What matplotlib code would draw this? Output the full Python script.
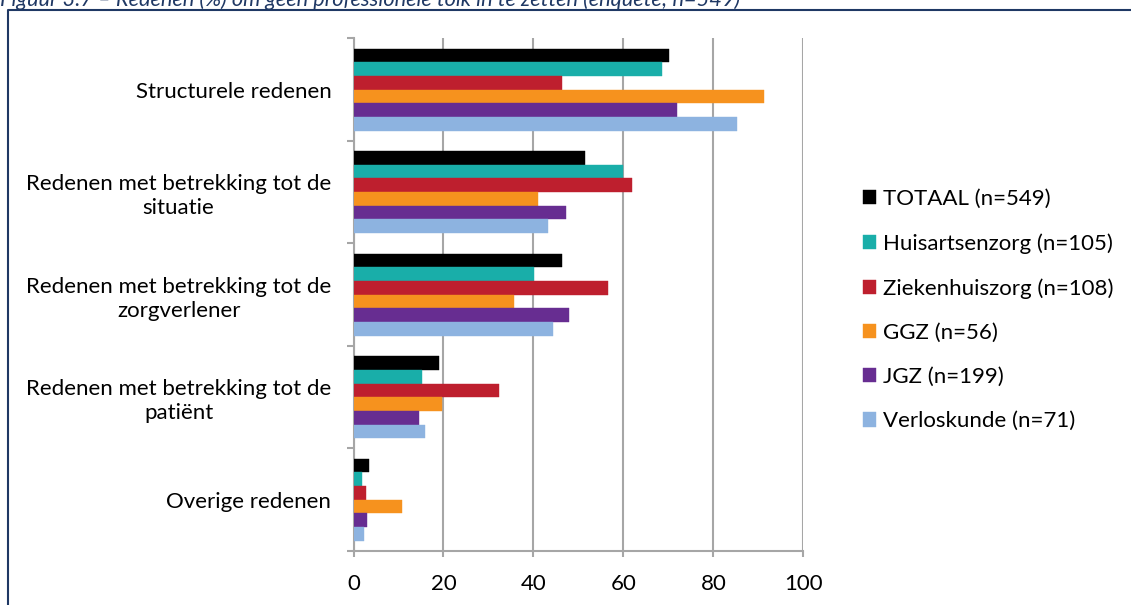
import matplotlib
matplotlib.use("Agg")
import matplotlib.pyplot as plt
import numpy as np
from matplotlib.lines import Line2D

categories = [
    "Structurele redenen",
    "Redenen met betrekking tot de\nsituatie",
    "Redenen met betrekking tot de\nzorgverlener",
    "Redenen met betrekking tot de\npatiënt",
    "Overige redenen",
]
series_names = [
    "TOTAAL (n=549)",
    "Huisartsenzorg (n=105)",
    "Ziekenhuiszorg (n=108)",
    "GGZ (n=56)",
    "JGZ (n=199)",
    "Verloskunde (n=71)",
]
totaal = [70.2, 51.4, 46.3, 18.9, 3.5]
huisarts = [68.6, 60.0, 40.1, 15.2, 1.9]
ziekenhuis = [46.3, 62.0, 56.6, 32.4, 2.7]
ggz = [91.2, 41.1, 35.7, 19.6, 10.7]
jgz = [71.9, 47.3, 47.8, 14.5, 2.9]
verlos = [85.3, 43.2, 44.4, 16.0, 2.4]
series_values = [totaal, huisarts, ziekenhuis, ggz, jgz, verlos]
colors = ["#000000", "#19AEA9", "#BE1F2E", "#F6921E", "#672D91", "#8DB3E0"]
xticks = [0, 20, 40, 60, 80, 100]
title = "Figuur 3.7 \u2013 Redenen (%) om geen professionele tolk in te zetten (enquête; n=549)"

plt.rcParams['font.family'] = ['Lato', 'DejaVu Sans']
W, H = 1131, 605
fig = plt.figure(figsize=(W / 100, H / 100), dpi=100)
fig.patch.set_facecolor("white")

left, right, top, bottom = 353.5, 803.3, 38.3, 551.0
ax = fig.add_axes([left / W, 1 - bottom / H, (right - left) / W, (bottom - top) / H])

n_series = len(series_values)
bar_h = 0.8 / n_series
y = np.arange(len(categories))
for i, (vals, c, name) in enumerate(zip(series_values, colors, series_names)):
    offs = -0.4 + bar_h * (i + 0.5)
    ax.barh(y + offs, vals, height=bar_h, color=c, edgecolor=c, linewidth=0.3,
            label=name, zorder=3)

FS = 16
ax.set_xlim(0, 100)
ax.set_ylim(len(categories) - 0.5, -0.5)
ax.set_xticks(xticks)
ax.set_xticklabels([str(v) for v in xticks])
ax.set_yticks(y)
ax.set_yticklabels(categories)
for t in ax.get_yticklabels():
    t.set_multialignment('center')
    t.set_linespacing(1.25)
ax.set_yticks(np.arange(-0.5, len(categories), 1.0), minor=True)

grid_c = "#A6A6A6"
ax.grid(axis='x', color=grid_c, linewidth=1.5, zorder=0)
ax.grid(axis='y', visible=False)
for s in ["top", "right"]:
    ax.spines[s].set_visible(False)
for s in ["left", "bottom"]:
    ax.spines[s].set_color(grid_c)
    ax.spines[s].set_linewidth(1.5)

ax.tick_params(axis='y', which='major', length=0, pad=16, labelsize=FS, labelcolor="#000000")
ax.tick_params(axis='y', which='minor', length=5, width=1.5, color=grid_c, direction='out')
ax.tick_params(axis='x', which='major', length=4, width=1.5, color=grid_c, pad=12.5,
               labelsize=FS, labelcolor="#000000")

leg = ax.legend(loc='upper left', bbox_to_anchor=(863 / W, 1 - 189 / H),
                bbox_transform=fig.transFigure, frameon=False,
                fontsize=FS, handlelength=0.6, handleheight=0.6,
                handletextpad=0.3, labelspacing=1.09, borderpad=0, borderaxespad=0)

# Frame and clipped title
frame_c = "#1F3864"
fig.add_artist(Line2D([8 / W, 8 / W, 1.0], [0, 1 - 9.5 / H, 1 - 9.5 / H],
                      transform=fig.transFigure, color=frame_c, linewidth=1.5))
fig.text(-0.5 / W, 1 - 5.5 / H, title, fontsize=15.7, style='italic', color=frame_c,
         ha='left', va='baseline')

fig.savefig("out.png", dpi=100, facecolor="white")
